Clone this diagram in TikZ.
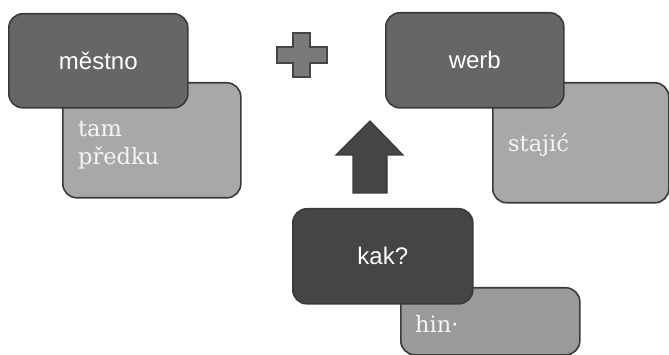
\documentclass[tikz,border=0pt]{standalone}
\usepackage{fontspec}
\newfontfamily\labelsans{Liberation Sans}
\newfontfamily\labelserif{DejaVu Serif}
\definecolor{boxdark}{HTML}{666666}
\definecolor{boxdarker}{HTML}{454545}
\definecolor{boxlight}{HTML}{A8A8A8}
\definecolor{boxmid}{HTML}{9A9A9A}
\definecolor{edge}{HTML}{3A3A3A}
\definecolor{plusfill}{HTML}{7A7A7A}
\tikzset{
  card/.style={draw=edge, line width=1.6pt, rounded corners=14pt, inner sep=0pt, anchor=north west},
  headtext/.style={text=white, font=\labelsans\fontsize{24}{28}\selectfont},
  bodytext/.style={text=white!92!gray, font=\labelserif\fontsize{22.5}{28}\selectfont, anchor=base west, inner sep=0pt, align=left},
}
\begin{document}
\begin{tikzpicture}[x=1pt,y=-1pt]
\useasboundingbox (0,0) rectangle (669,355);
% left pair
\node[card, fill=boxlight, minimum width=178pt, minimum height=115pt] (b1b) at (62,82) {};
\node[card, fill=boxdark, minimum width=179pt, minimum height=94pt] (b1) at (8,13) {};
\node[headtext] (t1) at (b1.center) {městno};
\node[bodytext] (t1b) at (78,137) {tam};
\node[bodytext] (t1c) at (78,165) {předku};
% right pair
\node[card, fill=boxlight, minimum width=176pt, minimum height=120pt] (b2b) at (492,82) {};
\node[card, fill=boxdark, minimum width=178pt, minimum height=95pt] (b2) at (385,12) {};
\node[headtext] (t2) at (b2.center) {werb};
\node[bodytext] (t2b) at (508,152) {stajić};
% bottom pair
\node[card, fill=boxmid, minimum width=179pt, minimum height=67pt] (b3b) at (400,287) {};
\node[card, fill=boxdarker, minimum width=180pt, minimum height=95pt] (b3) at (292,208) {};
\node[headtext] (t3) at (b3.center) {kak?};
\node[bodytext] (t3b) at (415,332) {hin·};
% plus sign
\draw[draw=boxdarker, fill=plusfill, line width=1.6pt]
  (293,33) -- (310,33) -- (310,47) -- (327,47) -- (327,63) -- (310,63) -- (310,77)
  -- (293,77) -- (293,63) -- (277,63) -- (277,47) -- (293,47) -- cycle;
% up arrow
\draw[draw=edge, fill=boxdarker, line width=1.2pt]
  (370,121) -- (403,155) -- (387,155) -- (387,193) -- (353,193) -- (353,155) -- (336,155) -- cycle;
\end{tikzpicture}
\end{document}
